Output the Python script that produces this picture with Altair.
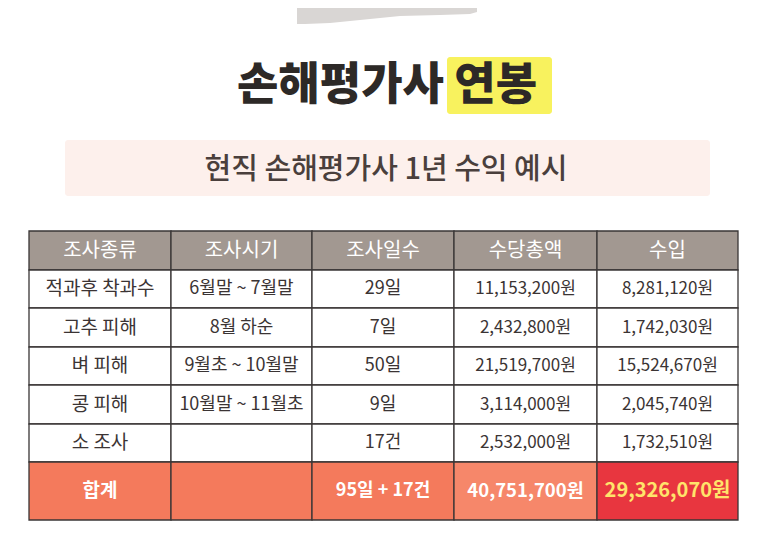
import re
import altair as alt
import pandas as pd

# ---- data ----
columns = ["조사종류", "조사시기", "조사일수", "수당총액", "수입"]
survey_types = ["적과후 착과수", "고추 피해", "벼 피해", "콩 피해", "소 조사", "합계"]
periods = ["6월말 ~ 7월말", "8월 하순", "9월초 ~ 10월말", "10월말 ~ 11월초", "", ""]
days = ["29일", "7일", "50일", "9일", "17건", "95일 + 17건"]
allowance = ["11,153,200원", "2,432,800원", "21,519,700원", "3,114,000원", "2,532,000원", "40,751,700원"]
income = ["8,281,120원", "1,742,030원", "15,524,670원", "2,045,740원", "1,732,510원", "29,326,070원"]

title_text = "손해평가사 연봉"
subtitle_text = "현직 손해평가사 1년 수익 예시"

# ---- layout (pixel positions in reference coordinates) ----
W, H = 746, 514
X0, Y0 = 8, 8
col_edges = [29, 171, 312, 454, 597, 738]
row_edges = [231, 270, 308, 347, 385, 424, 462, 520]
FONT = "Noto Sans CJK KR"

body = [survey_types, periods, days, allowance, income]
cells = []
n_rows = len(survey_types) + 1
for r in range(n_rows):
    for c in range(len(columns)):
        if r == 0:
            txt, fill, tcol, wt, fs = columns[c], "#a29891", "#ffffff", 400, 20
        elif r == n_rows - 1:
            txt = body[c][r - 1]
            fill = ["#f47a5c", "#f47a5c", "#f47a5c", "#f6876a", "#e8363f"][c]
            tcol = "#ffe46b" if c == 4 else "#ffffff"
            wt = 700
            fs = [19, 18, 18, 18.5, 20][c]
        else:
            txt, fill, tcol, wt = body[c][r - 1], "#ffffff", "#3b3434", 400
            if txt.endswith("원"):
                fs = 17
            elif re.search(r"\d", txt):
                fs = 18
            else:
                fs = 19
        cells.append(dict(x0=col_edges[c], x1=col_edges[c + 1],
                          y0=row_edges[r], y1=row_edges[r + 1],
                          xc=(col_edges[c] + col_edges[c + 1]) / 2,
                          yc=(row_edges[r] + row_edges[r + 1]) / 2,
                          text=txt, fill=fill, tcol=tcol, weight=wt, size=fs))
cells_df = pd.DataFrame(cells)

xs = alt.Scale(domain=[X0, X0 + W], range=[0, W], nice=False, zero=False)
ys = alt.Scale(domain=[Y0, Y0 + H], range=[0, H], nice=False, zero=False)

def X(f):
    return alt.X(f, type="quantitative", scale=xs, axis=None)

def Y(f):
    return alt.Y(f, type="quantitative", scale=ys, axis=None)

# tape (torn paper) at the top
tape = pd.DataFrame(dict(
    x=[297, 305, 330, 360, 400, 440, 470, 477],
    top=[8, 8, 8, 8, 8, 8, 8, 8],
    bottom=[24, 24, 23, 20, 16, 15, 14, 12],
))
tape_layer = alt.Chart(tape).mark_area(color="#d9d6d4").encode(
    x=X("x"), y=Y("top"), y2="bottom")

# highlight + subtitle box
deco = pd.DataFrame([
    dict(name="hl", x0=447, x1=552, y0=57, y1=114, fill="#f8f25e"),
    dict(name="box", x0=65, x1=710, y0=140, y1=196, fill="#fdf0ec"),
])
deco_layer = alt.Chart(deco).mark_rect(cornerRadius=3).encode(
    x=X("x0"), x2="x1", y=Y("y0"), y2="y1",
    fill=alt.Fill("fill:N", scale=None),
)

titles = pd.DataFrame([
    dict(x=387, y=86, text=title_text),
    dict(x=386, y=170, text=subtitle_text),
])
t1 = alt.Chart(titles.iloc[[0]]).mark_text(font=FONT, align="center", baseline="middle",
                                           fontSize=45, fontWeight=900, color="#2d2927").encode(
    x=X("x"), y=Y("y"), text="text:N")
t2 = alt.Chart(titles.iloc[[1]]).mark_text(font=FONT, align="center", baseline="middle",
                                           fontSize=29, fontWeight=500, color="#4a3f3c").encode(
    x=X("x"), y=Y("y"), text="text:N")

cell_rect = alt.Chart(cells_df).mark_rect(stroke="#3a3636", strokeWidth=1.3).encode(
    x=X("x0"), x2="x1", y=Y("y0"), y2="y1",
    fill=alt.Fill("fill:N", scale=None),
)
cell_text_norm = alt.Chart(cells_df[cells_df.weight == 400]).mark_text(
    font=FONT, align="center", baseline="middle").encode(
    x=X("xc"), y=Y("yc"), text="text:N",
    size=alt.Size("size:Q", scale=None),
    color=alt.Color("tcol:N", scale=None),
)
cell_text_bold = alt.Chart(cells_df[cells_df.weight == 700]).mark_text(
    font=FONT, align="center", baseline="middle", fontWeight=700).encode(
    x=X("xc"), y=Y("yc"), text="text:N",
    size=alt.Size("size:Q", scale=None),
    color=alt.Color("tcol:N", scale=None),
)

chart = alt.layer(tape_layer, deco_layer, t1, t2, cell_rect, cell_text_norm, cell_text_bold).properties(
    width=W, height=H, padding=0, autosize=alt.AutoSizeParams(type="none"),
    background="#ffffff",
).configure_view(strokeWidth=0)

chart.save("out.html", embed_options={"renderer": "svg", "actions": False})
